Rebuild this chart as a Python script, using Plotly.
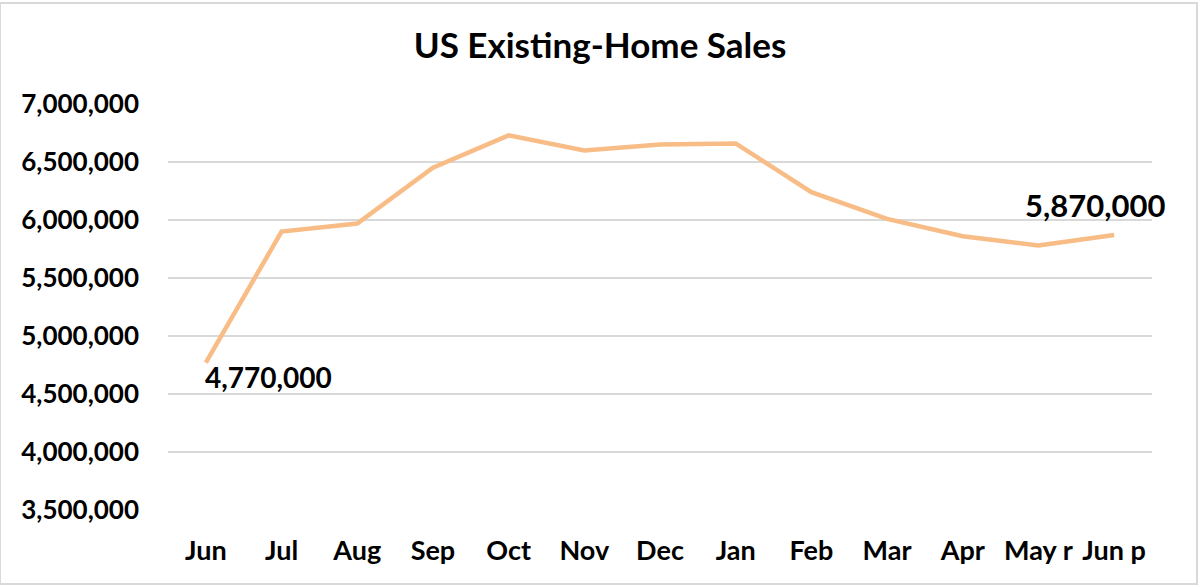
import plotly.graph_objects as go

months = ["Jun", "Jul", "Aug", "Sep", "Oct", "Nov", "Dec", "Jan", "Feb", "Mar", "Apr", "May r", "Jun p"]
sales = [4770000, 5900000, 5970000, 6450000, 6730000, 6600000, 6650000, 6660000, 6240000, 6010000, 5860000, 5780000, 5870000]
y_ticks = [3500000, 4000000, 4500000, 5000000, 5500000, 6000000, 6500000, 7000000]

FONT = "Lato"
fig = go.Figure()
fig.add_trace(go.Scatter(
    x=months, y=sales, mode="lines",
    line=dict(color="#F8BC86", width=4.5),
    hoverinfo="skip", showlegend=False,
))

fig.add_annotation(x=months[0], y=sales[0], text="4,770,000", showarrow=False,
                   xanchor="left", yanchor="middle", xshift=-3, yshift=-14,
                   font=dict(family=FONT, size=28, color="black", weight="bold"))
fig.add_annotation(x=months[-1], y=sales[-1], text="5,870,000", showarrow=False,
                   xanchor="center", yanchor="middle", xshift=-19, yshift=30,
                   font=dict(family=FONT, size=31, color="black", weight="bold"))

fig.update_layout(
    width=1200, height=587,
    margin=dict(l=168, r=48, t=104, b=77),
    paper_bgcolor="white", plot_bgcolor="white",
    title=dict(text="US Existing-Home Sales", x=0.5, xanchor="center",
               y=1 - 46 / 587, yref="container", yanchor="middle",
               font=dict(family=FONT, size=35, color="black", weight="bold")),
    xaxis=dict(type="category", range=[-0.5, len(months) - 0.5], showgrid=False,
               showline=False, zeroline=False, ticks="", ticklabelstandoff=22,
               tickfont=dict(family=FONT, size=27, color="black", weight="bold")),
    yaxis=dict(range=[3500000, 7000000], tickvals=y_ticks,
               ticktext=[f"{v:,}" for v in y_ticks],
               showgrid=True, gridcolor="#D9D9D9", gridwidth=1.5,
               zeroline=False, showline=False, ticks="", ticklabelstandoff=28,
               tickfont=dict(family=FONT, size=26, color="black", weight="bold")),
    shapes=[dict(type="rect", xref="paper", yref="paper",
                 x0=-168 / 984, x1=1 + 45 / 984, y0=-74 / 406.3, y1=1 + 101 / 406.3,
                 line=dict(color="#D9D9D9", width=2), layer="below")],
)

fig.write_html("out.html")
